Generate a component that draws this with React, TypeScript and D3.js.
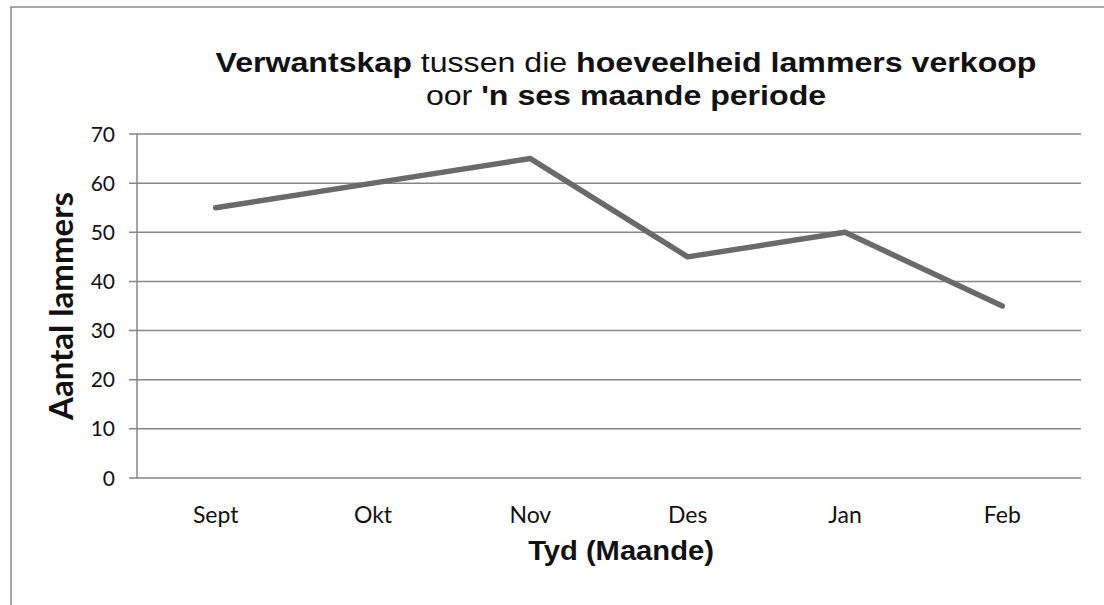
import React, { useEffect, useRef } from 'react'
import * as d3 from 'd3'

const months = ['Sept', 'Okt', 'Nov', 'Des', 'Jan', 'Feb']
const lambs = [55, 60, 65, 45, 50, 35]
const yTicks = [0, 10, 20, 30, 40, 50, 60, 70]

const width = 1104
const height = 605
const margin = { top: 134, right: 23, bottom: 127, left: 137 }

export default function App() {
  const svgRef = useRef<SVGSVGElement>(null)

  useEffect(() => {
    if (!svgRef.current) return
    const svg = d3.select(svgRef.current)
    svg.selectAll('*').remove()

    const innerW = width - margin.left - margin.right
    const innerH = height - margin.top - margin.bottom

    const x = d3.scaleBand<string>().domain(months).range([0, innerW])
    const y = d3.scaleLinear().domain([0, 70]).range([innerH, 0])

    // frame (only top and left edges show in the scan)
    svg.append('path')
      .attr('d', `M11,${height} L11,7 L${width},7`)
      .attr('fill', 'none')
      .attr('stroke', '#8a8a8a')
      .attr('stroke-width', 1.5)

    const g = svg.append('g').attr('transform', `translate(${margin.left},${margin.top})`)

    // gridlines
    g.selectAll('line.grid')
      .data(yTicks)
      .join('line')
      .attr('class', 'grid')
      .attr('x1', -8)
      .attr('x2', innerW)
      .attr('y1', d => y(d))
      .attr('y2', d => y(d))
      .attr('stroke', '#868686')
      .attr('stroke-width', 1.5)

    // y axis line
    g.append('line')
      .attr('x1', 0).attr('x2', 0)
      .attr('y1', 0).attr('y2', innerH)
      .attr('stroke', '#868686')
      .attr('stroke-width', 1.5)

    g.selectAll('text.ytick')
      .data(yTicks)
      .join('text')
      .attr('class', 'ytick')
      .attr('x', -22)
      .attr('y', d => y(d))
      .attr('dy', '0.36em')
      .attr('text-anchor', 'end')
      .style('font-family', 'Lato, "Open Sans", sans-serif')
      .style('font-size', '21px')
      .attr('fill', '#111')
      .text(d => d)

    g.selectAll('text.xtick')
      .data(months)
      .join('text')
      .attr('class', 'xtick')
      .attr('x', d => (x(d) as number) + x.bandwidth() / 2)
      .attr('y', innerH + 45)
      .attr('text-anchor', 'middle')
      .style('font-family', 'Lato, "Open Sans", sans-serif')
      .style('font-size', '23px')
      .attr('fill', '#111')
      .text(d => d)

    const line = d3.line<number>()
      .x((_, i) => (x(months[i]) as number) + x.bandwidth() / 2)
      .y(d => y(d))

    g.append('path')
      .datum(lambs)
      .attr('d', line)
      .attr('fill', 'none')
      .attr('stroke', '#6a6a6a')
      .attr('stroke-width', 5.5)
      .attr('stroke-linejoin', 'round')
      .attr('stroke-linecap', 'round')

    // title, a bit stretched sideways like the scan
    const cx = 626
    const tg = svg.append('g').attr('transform', `translate(${cx},0) scale(1.19,1)`)
    const title = tg.append('text')
      .attr('text-anchor', 'middle')
      .style('font-family', '"Liberation Sans", Arial, sans-serif')
      .style('font-size', '27px')
      .attr('fill', '#111')
    const l1 = title.append('tspan').attr('x', 0).attr('y', 72)
    l1.append('tspan').attr('font-weight', 'bold').text('Verwantskap')
    l1.append('tspan').text(' tussen die ')
    l1.append('tspan').attr('font-weight', 'bold').text('hoeveelheid lammers verkoop')
    const l2 = title.append('tspan').attr('x', 0).attr('y', 105)
    l2.append('tspan').text('oor ')
    l2.append('tspan').attr('font-weight', 'bold').text("'n ses maande periode")

    svg.append('text')
      .attr('transform', `translate(73, ${margin.top + innerH / 2}) rotate(-90)`)
      .attr('text-anchor', 'middle')
      .style('font-family', 'Lato, "Open Sans", sans-serif')
      .style('font-size', '33px')
      .attr('font-weight', 'bold')
      .attr('fill', '#111')
      .text('Aantal lammers')

    svg.append('g')
      .attr('transform', `translate(621,0) scale(1.08,1)`)
      .append('text')
      .attr('x', 0)
      .attr('y', 560)
      .attr('text-anchor', 'middle')
      .style('font-family', '"Liberation Sans", Arial, sans-serif')
      .style('font-size', '27px')
      .attr('font-weight', 'bold')
      .attr('fill', '#111')
      .text('Tyd (Maande)')
  }, [])

  return (
    <svg ref={svgRef} width={width} height={height}
      style={{ position: 'absolute', left: 0, top: 0 }} />
  )
}
